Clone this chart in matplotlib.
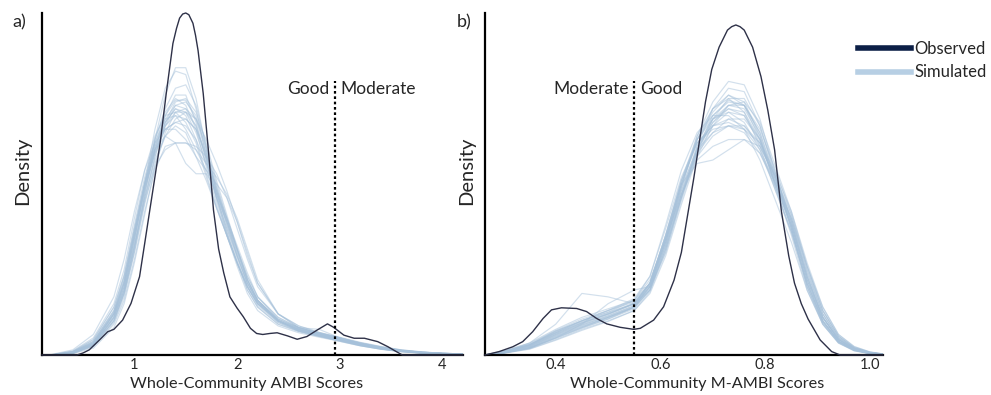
import matplotlib
matplotlib.use("Agg")
import matplotlib.pyplot as plt
from matplotlib.lines import Line2D

plt.rcParams['font.family'] = ['Lato', 'DejaVu Sans']

# ---------------- Panel a: Whole-community AMBI ----------------
ambi_obs_x = [0.10, 0.44, 0.50, 0.56, 0.66, 0.74, 0.80, 0.885, 0.967, 1.05,
              1.10, 1.15, 1.20, 1.25, 1.31, 1.375, 1.41, 1.44, 1.47, 1.50,
              1.53, 1.57, 1.595, 1.62, 1.67, 1.72, 1.77, 1.82, 1.87, 1.93,
              2.00, 2.06, 2.13, 2.19, 2.25, 2.32, 2.39, 2.49, 2.585, 2.68,
              2.78, 2.88, 2.94, 3.04, 3.14, 3.24, 3.37, 3.47, 3.55, 3.61, 4.20]
ambi_obs_y = [0, 0, 0.006, 0.015, 0.044, 0.068, 0.075, 0.102, 0.151, 0.229,
              0.326, 0.424, 0.521, 0.619, 0.765, 0.911, 0.955, 0.985, 0.997, 1.0,
              0.995, 0.97, 0.935, 0.89, 0.765, 0.60, 0.424, 0.31, 0.24, 0.17,
              0.137, 0.112, 0.078, 0.063, 0.06, 0.063, 0.065, 0.056, 0.046, 0.054,
              0.073, 0.091, 0.081, 0.058, 0.049, 0.049, 0.039, 0.024, 0.010, 0.0, 0]

ambi_sim_x = [0.2, 0.4, 0.6, 0.8, 0.9, 1.0, 1.1, 1.2, 1.3, 1.4, 1.5, 1.6, 1.7, 1.8,
              1.9, 2.0, 2.1, 2.2, 2.4, 2.6, 2.8, 3.0, 3.2, 3.4, 3.6, 3.8, 4.0, 4.2]
ambi_sim_y = [
    [0.0, 0.006, 0.03, 0.11, 0.19, 0.33, 0.50, 0.66, 0.78, 0.83, 0.82, 0.72, 0.58, 0.45,
     0.36, 0.27, 0.19, 0.14, 0.09, 0.07, 0.055, 0.042, 0.028, 0.018, 0.010, 0.005, 0.003, 0.001],
    [0.0, 0.008, 0.035, 0.12, 0.21, 0.36, 0.50, 0.61, 0.68, 0.72, 0.71, 0.65, 0.56, 0.46,
     0.39, 0.30, 0.22, 0.16, 0.10, 0.075, 0.06, 0.045, 0.03, 0.02, 0.012, 0.007, 0.004, 0.002],
    [0.0, 0.005, 0.025, 0.09, 0.16, 0.28, 0.42, 0.54, 0.61, 0.62, 0.62, 0.60, 0.56, 0.52,
     0.47, 0.40, 0.31, 0.22, 0.12, 0.08, 0.065, 0.05, 0.035, 0.024, 0.015, 0.009, 0.005, 0.002],
    [0.001, 0.012, 0.05, 0.15, 0.25, 0.40, 0.54, 0.64, 0.70, 0.71, 0.68, 0.62, 0.52, 0.43,
     0.35, 0.27, 0.20, 0.15, 0.095, 0.07, 0.055, 0.04, 0.027, 0.017, 0.01, 0.006, 0.003, 0.001],
    [0.0, 0.007, 0.03, 0.11, 0.19, 0.32, 0.47, 0.60, 0.70, 0.76, 0.76, 0.68, 0.57, 0.46,
     0.37, 0.28, 0.20, 0.15, 0.10, 0.075, 0.06, 0.046, 0.03, 0.019, 0.011, 0.006, 0.003, 0.001],
    [0.0, 0.01, 0.04, 0.13, 0.22, 0.36, 0.49, 0.59, 0.66, 0.68, 0.67, 0.63, 0.56, 0.47,
     0.39, 0.31, 0.23, 0.17, 0.11, 0.08, 0.062, 0.05, 0.036, 0.024, 0.014, 0.008, 0.005, 0.003],
    [0.0, 0.006, 0.028, 0.10, 0.18, 0.31, 0.46, 0.58, 0.67, 0.73, 0.74, 0.70, 0.60, 0.49,
     0.40, 0.31, 0.22, 0.16, 0.10, 0.07, 0.055, 0.043, 0.03, 0.02, 0.012, 0.007, 0.004, 0.002],
    [0.0, 0.009, 0.04, 0.13, 0.23, 0.37, 0.51, 0.62, 0.69, 0.70, 0.66, 0.60, 0.54, 0.47,
     0.40, 0.32, 0.24, 0.17, 0.105, 0.078, 0.062, 0.048, 0.032, 0.02, 0.012, 0.007, 0.004, 0.002],
    [0.0, 0.007, 0.032, 0.115, 0.20, 0.34, 0.48, 0.59, 0.67, 0.70, 0.69, 0.66, 0.59, 0.49,
     0.39, 0.29, 0.21, 0.155, 0.10, 0.072, 0.058, 0.044, 0.03, 0.02, 0.013, 0.008, 0.005, 0.003],
    [0.0, 0.005, 0.027, 0.10, 0.18, 0.30, 0.44, 0.56, 0.64, 0.67, 0.65, 0.58, 0.54, 0.50,
     0.46, 0.39, 0.30, 0.21, 0.12, 0.085, 0.066, 0.052, 0.037, 0.025, 0.015, 0.009, 0.005, 0.002],
    [0.0, 0.008, 0.036, 0.12, 0.21, 0.35, 0.50, 0.63, 0.72, 0.78, 0.79, 0.73, 0.61, 0.47,
     0.36, 0.27, 0.19, 0.14, 0.09, 0.068, 0.054, 0.041, 0.027, 0.017, 0.01, 0.006, 0.003, 0.001],
    [0.0, 0.01, 0.045, 0.14, 0.23, 0.37, 0.50, 0.60, 0.66, 0.68, 0.69, 0.66, 0.58, 0.48,
     0.38, 0.29, 0.21, 0.16, 0.105, 0.08, 0.064, 0.05, 0.034, 0.022, 0.013, 0.008, 0.005, 0.003],
    [0.002, 0.015, 0.06, 0.17, 0.28, 0.42, 0.54, 0.62, 0.66, 0.66, 0.63, 0.58, 0.51, 0.43,
     0.35, 0.27, 0.20, 0.15, 0.10, 0.075, 0.06, 0.045, 0.03, 0.02, 0.012, 0.007, 0.004, 0.002],
    [0.0, 0.004, 0.02, 0.08, 0.15, 0.27, 0.41, 0.55, 0.65, 0.71, 0.72, 0.69, 0.63, 0.56,
     0.48, 0.39, 0.29, 0.21, 0.12, 0.08, 0.063, 0.048, 0.033, 0.021, 0.012, 0.007, 0.004, 0.002],
    [0.0, 0.007, 0.03, 0.11, 0.20, 0.34, 0.49, 0.60, 0.64, 0.62, 0.56, 0.53, 0.53, 0.48,
     0.40, 0.31, 0.22, 0.16, 0.10, 0.075, 0.06, 0.046, 0.032, 0.021, 0.012, 0.007, 0.004, 0.002],
    [0.0, 0.006, 0.028, 0.10, 0.18, 0.31, 0.47, 0.63, 0.76, 0.84, 0.84, 0.75, 0.60, 0.46,
     0.35, 0.26, 0.18, 0.13, 0.085, 0.065, 0.052, 0.04, 0.027, 0.017, 0.01, 0.005, 0.003, 0.001],
    [0.0, 0.009, 0.038, 0.125, 0.215, 0.355, 0.495, 0.61, 0.69, 0.73, 0.72, 0.67, 0.57, 0.46,
     0.37, 0.29, 0.21, 0.155, 0.10, 0.074, 0.058, 0.044, 0.029, 0.019, 0.011, 0.006, 0.003, 0.001],
    [0.0, 0.006, 0.03, 0.105, 0.185, 0.32, 0.46, 0.57, 0.64, 0.69, 0.71, 0.69, 0.61, 0.50,
     0.40, 0.31, 0.23, 0.17, 0.11, 0.08, 0.064, 0.05, 0.034, 0.022, 0.013, 0.008, 0.005, 0.003],
    [0.0, 0.008, 0.034, 0.12, 0.20, 0.34, 0.48, 0.60, 0.68, 0.72, 0.70, 0.63, 0.53, 0.43,
     0.35, 0.27, 0.20, 0.15, 0.10, 0.08, 0.075, 0.05, 0.03, 0.02, 0.012, 0.007, 0.004, 0.002],
    [0.0, 0.007, 0.033, 0.12, 0.21, 0.35, 0.50, 0.62, 0.70, 0.745, 0.745, 0.69, 0.59, 0.48,
     0.38, 0.29, 0.21, 0.155, 0.098, 0.072, 0.057, 0.044, 0.03, 0.019, 0.011, 0.006, 0.003, 0.001],
    [0.0, 0.006, 0.03, 0.11, 0.19, 0.32, 0.45, 0.55, 0.60, 0.62, 0.62, 0.61, 0.58, 0.53,
     0.46, 0.37, 0.28, 0.20, 0.12, 0.085, 0.066, 0.05, 0.035, 0.023, 0.014, 0.008, 0.005, 0.003],
    [0.001, 0.011, 0.045, 0.14, 0.235, 0.38, 0.52, 0.63, 0.71, 0.75, 0.73, 0.66, 0.55, 0.44,
     0.35, 0.27, 0.20, 0.145, 0.095, 0.07, 0.056, 0.043, 0.029, 0.018, 0.01, 0.006, 0.003, 0.001],
    [0.0, 0.005, 0.025, 0.095, 0.17, 0.30, 0.45, 0.58, 0.68, 0.74, 0.75, 0.71, 0.62, 0.51,
     0.41, 0.31, 0.22, 0.16, 0.10, 0.073, 0.058, 0.045, 0.031, 0.02, 0.012, 0.007, 0.004, 0.002],
    [0.0, 0.008, 0.036, 0.125, 0.215, 0.355, 0.49, 0.60, 0.67, 0.71, 0.71, 0.67, 0.58, 0.48,
     0.39, 0.30, 0.22, 0.16, 0.105, 0.077, 0.061, 0.047, 0.032, 0.021, 0.013, 0.008, 0.005, 0.003],
]
ambi_ticks = [1, 2, 3, 4]
ambi_threshold = 2.95
ambi_classes = ("Good", "Moderate")

# ---------------- Panel b: Whole-community M-AMBI ----------------
mambi_obs_x = [0.265, 0.292, 0.318, 0.337, 0.356, 0.376, 0.392, 0.411, 0.44, 0.459,
               0.478, 0.4975, 0.523, 0.549, 0.5615, 0.587, 0.606, 0.626, 0.64, 0.652,
               0.664, 0.675, 0.686, 0.698, 0.712, 0.728, 0.736, 0.744, 0.752, 0.76,
               0.776, 0.792, 0.805, 0.818, 0.831, 0.845, 0.856, 0.869, 0.882, 0.905,
               0.927, 0.943, 1.025]
mambi_obs_y = [0, 0.01, 0.024, 0.039, 0.068, 0.107, 0.132, 0.138, 0.136, 0.127,
               0.107, 0.091, 0.081, 0.075, 0.078, 0.102, 0.141, 0.219, 0.30, 0.41,
               0.52, 0.63, 0.74, 0.835, 0.90, 0.95, 0.96, 0.965, 0.96, 0.95,
               0.90, 0.814, 0.716, 0.60, 0.42, 0.29, 0.21, 0.15, 0.105, 0.044,
               0.01, 0, 0]

mambi_sim_x = [0.265, 0.30, 0.35, 0.40, 0.45, 0.50, 0.55, 0.58, 0.61, 0.64, 0.67, 0.70,
               0.73, 0.76, 0.79, 0.82, 0.85, 0.88, 0.91, 0.94, 0.97, 1.00, 1.025]
mambi_sim_y = [
    [0, 0.006, 0.02, 0.05, 0.08, 0.105, 0.135, 0.19, 0.32, 0.49, 0.64, 0.74,
     0.80, 0.79, 0.69, 0.53, 0.37, 0.20, 0.095, 0.038, 0.014, 0.005, 0.002],
    [0, 0.008, 0.025, 0.06, 0.09, 0.115, 0.145, 0.20, 0.33, 0.50, 0.62, 0.67,
     0.71, 0.70, 0.63, 0.50, 0.38, 0.22, 0.11, 0.045, 0.018, 0.006, 0.002],
    [0, 0.01, 0.03, 0.065, 0.10, 0.13, 0.16, 0.22, 0.34, 0.47, 0.57, 0.61,
     0.63, 0.63, 0.59, 0.50, 0.40, 0.26, 0.14, 0.06, 0.025, 0.009, 0.003],
    [0, 0.01, 0.03, 0.07, 0.10, 0.125, 0.16, 0.23, 0.38, 0.54, 0.65, 0.70,
     0.70, 0.66, 0.57, 0.45, 0.33, 0.19, 0.09, 0.035, 0.012, 0.004, 0.001],
    [0, 0.005, 0.018, 0.045, 0.075, 0.10, 0.13, 0.18, 0.29, 0.44, 0.58, 0.67,
     0.73, 0.74, 0.68, 0.55, 0.42, 0.26, 0.13, 0.055, 0.022, 0.008, 0.003],
    [0, 0.008, 0.035, 0.09, 0.18, 0.17, 0.15, 0.19, 0.31, 0.47, 0.60, 0.68,
     0.72, 0.71, 0.63, 0.50, 0.37, 0.21, 0.10, 0.04, 0.015, 0.005, 0.002],
    [0, 0.006, 0.02, 0.05, 0.09, 0.15, 0.19, 0.20, 0.30, 0.46, 0.60, 0.69,
     0.73, 0.72, 0.64, 0.51, 0.38, 0.22, 0.10, 0.04, 0.015, 0.005, 0.002],
    [0, 0.008, 0.028, 0.065, 0.095, 0.12, 0.15, 0.21, 0.35, 0.50, 0.56, 0.57,
     0.60, 0.63, 0.61, 0.52, 0.40, 0.25, 0.13, 0.055, 0.02, 0.007, 0.002],
    [0, 0.007, 0.022, 0.055, 0.085, 0.11, 0.14, 0.20, 0.34, 0.50, 0.63, 0.71,
     0.76, 0.74, 0.64, 0.49, 0.35, 0.19, 0.09, 0.036, 0.013, 0.004, 0.001],
    [0, 0.009, 0.03, 0.07, 0.10, 0.125, 0.15, 0.20, 0.32, 0.46, 0.59, 0.67,
     0.69, 0.67, 0.61, 0.52, 0.41, 0.26, 0.13, 0.055, 0.022, 0.008, 0.003],
    [0, 0.006, 0.02, 0.048, 0.078, 0.105, 0.14, 0.21, 0.35, 0.51, 0.64, 0.72,
     0.75, 0.71, 0.61, 0.48, 0.36, 0.21, 0.10, 0.04, 0.015, 0.005, 0.002],
    [0, 0.012, 0.035, 0.075, 0.11, 0.135, 0.16, 0.21, 0.33, 0.47, 0.58, 0.64,
     0.67, 0.67, 0.62, 0.51, 0.40, 0.24, 0.12, 0.05, 0.02, 0.007, 0.002],
    [0, 0.007, 0.024, 0.058, 0.088, 0.112, 0.142, 0.20, 0.34, 0.50, 0.63, 0.70,
     0.74, 0.73, 0.65, 0.51, 0.37, 0.21, 0.10, 0.04, 0.015, 0.005, 0.002],
    [0, 0.009, 0.028, 0.063, 0.093, 0.12, 0.15, 0.21, 0.34, 0.48, 0.59, 0.65,
     0.69, 0.69, 0.63, 0.52, 0.39, 0.23, 0.11, 0.045, 0.017, 0.006, 0.002],
    [0, 0.006, 0.02, 0.05, 0.08, 0.11, 0.14, 0.19, 0.31, 0.46, 0.61, 0.72,
     0.78, 0.77, 0.67, 0.52, 0.37, 0.20, 0.09, 0.035, 0.013, 0.004, 0.001],
    [0, 0.01, 0.03, 0.068, 0.10, 0.13, 0.165, 0.23, 0.37, 0.52, 0.62, 0.66,
     0.67, 0.65, 0.59, 0.49, 0.38, 0.23, 0.11, 0.046, 0.018, 0.006, 0.002],
    [0, 0.008, 0.026, 0.06, 0.092, 0.118, 0.15, 0.205, 0.33, 0.48, 0.61, 0.69,
     0.72, 0.70, 0.62, 0.50, 0.38, 0.22, 0.11, 0.046, 0.018, 0.006, 0.002],
    [0, 0.005, 0.017, 0.043, 0.072, 0.098, 0.13, 0.185, 0.30, 0.45, 0.59, 0.69,
     0.75, 0.75, 0.67, 0.53, 0.39, 0.23, 0.11, 0.045, 0.017, 0.006, 0.002],
    [0, 0.011, 0.033, 0.072, 0.105, 0.13, 0.155, 0.21, 0.34, 0.49, 0.60, 0.65,
     0.67, 0.66, 0.62, 0.53, 0.42, 0.27, 0.14, 0.06, 0.024, 0.009, 0.003],
    [0, 0.007, 0.022, 0.054, 0.083, 0.108, 0.138, 0.195, 0.33, 0.49, 0.63, 0.72,
     0.76, 0.73, 0.63, 0.49, 0.36, 0.20, 0.095, 0.038, 0.014, 0.005, 0.002],
    [0, 0.008, 0.027, 0.062, 0.094, 0.12, 0.15, 0.21, 0.35, 0.51, 0.62, 0.67,
     0.68, 0.66, 0.60, 0.50, 0.39, 0.24, 0.12, 0.05, 0.02, 0.007, 0.002],
    [0, 0.006, 0.021, 0.052, 0.082, 0.11, 0.14, 0.19, 0.31, 0.46, 0.60, 0.70,
     0.745, 0.73, 0.65, 0.52, 0.39, 0.23, 0.11, 0.045, 0.017, 0.006, 0.002],
    [0, 0.009, 0.03, 0.066, 0.097, 0.122, 0.152, 0.21, 0.35, 0.51, 0.63, 0.69,
     0.71, 0.68, 0.60, 0.48, 0.36, 0.21, 0.10, 0.04, 0.015, 0.005, 0.002],
    [0, 0.007, 0.024, 0.057, 0.087, 0.114, 0.144, 0.20, 0.32, 0.47, 0.60, 0.68,
     0.73, 0.73, 0.66, 0.54, 0.41, 0.25, 0.12, 0.05, 0.019, 0.007, 0.002],
]
mambi_ticks = [0.4, 0.6, 0.8, 1.0]
mambi_threshold = 0.55
mambi_classes = ("Moderate", "Good")

OBS_COLOR = "#2e3148"
SIM_COLOR = "#a6c1da"
LEG_OBS = "#0c1f46"
LEG_SIM = "#b7cfe4"
TEXT = "#262626"

fig = plt.figure(figsize=(9.91, 3.95), dpi=100)
ax_a = fig.add_axes([42 / 991, 40 / 395, (463 - 42) / 991, 342 / 395])
ax_b = fig.add_axes([485 / 991, 40 / 395, (883 - 485) / 991, 342 / 395])


def draw_panel(ax, sim_x, sim_y, obs_x, obs_y, xlim, ticks, ticklabels,
               thr, classes, xlabel, tag, xlabel_pos, ylabel_pos):
    for curve in sim_y:
        ax.plot(sim_x, curve, color=SIM_COLOR, lw=0.85, alpha=0.5,
                solid_joinstyle="round", zorder=2)
    ax.plot(obs_x, obs_y, color=OBS_COLOR, lw=1.0, zorder=4, clip_on=False)
    ax.vlines(thr, 0, 0.80, colors="black", linestyles=(0, (1.2, 1.2)),
              lw=1.6, zorder=5)
    ax.annotate(classes[0], (thr, 0.778), xytext=(-4, 0), textcoords="offset points",
                ha="right", va="center", fontsize=12.5, color=TEXT)
    ax.annotate(classes[1], (thr, 0.778), xytext=(4, 0), textcoords="offset points",
                ha="left", va="center", fontsize=12.5, color=TEXT)
    ax.set_xlim(*xlim)
    ax.set_ylim(0, 1.0)
    ax.set_xticks(ticks)
    ax.set_xticklabels(ticklabels)
    ax.set_yticks([])
    ax.tick_params(axis="x", length=0, pad=2, labelsize=10.5, labelcolor=TEXT)
    for side in ("top", "right"):
        ax.spines[side].set_visible(False)
    for side in ("left", "bottom"):
        ax.spines[side].set_linewidth(1.6)
        ax.spines[side].set_color("black")
    ax.set_xlabel(xlabel, fontsize=11.7, color=TEXT, labelpad=3)
    ax.xaxis.set_label_coords(xlabel_pos, -0.065)
    ax.set_ylabel("Density", fontsize=14.5, color=TEXT)
    ax.yaxis.set_label_coords(ylabel_pos, 0.54)
    ax.text(-0.07, 0.995, tag, transform=ax.transAxes, fontsize=13,
            color=TEXT, ha="left", va="top")


draw_panel(ax_a, ambi_sim_x, ambi_sim_y, ambi_obs_x, ambi_obs_y, (0.1, 4.2),
           ambi_ticks, [str(t) for t in ambi_ticks], ambi_threshold, ambi_classes,
           "Whole-Community AMBI Scores", "a)", 0.485, -0.026)
draw_panel(ax_b, mambi_sim_x, mambi_sim_y, mambi_obs_x, mambi_obs_y, (0.265, 1.025),
           mambi_ticks, [f"{t:.1f}" for t in mambi_ticks], mambi_threshold, mambi_classes,
           "Whole-Community M-AMBI Scores", "b)", 0.533, -0.025)

handles = [Line2D([], [], color=LEG_OBS, lw=4),
           Line2D([], [], color=LEG_SIM, lw=4)]
fig.legend(handles, ["Observed", "Simulated"], loc="upper left",
           bbox_to_anchor=(843 / 991, 1 - 26 / 395), frameon=False, fontsize=12,
           handlelength=3.2, handletextpad=0.2, labelspacing=0.45,
           labelcolor=TEXT)

fig.savefig("out.png", dpi=100)
